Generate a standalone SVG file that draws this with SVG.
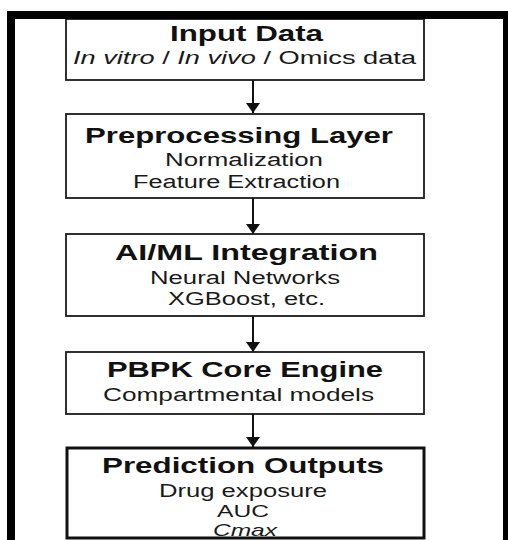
<svg xmlns="http://www.w3.org/2000/svg" width="508" height="540" viewBox="0 0 508 540">
  <style>
    .box { fill: #ffffff; stroke: #1a1a1a; stroke-width: 1.8; }
    .box-strong { fill: #ffffff; stroke: #111111; stroke-width: 3; }
    .title { font-family: "Liberation Sans", Arial, sans-serif; font-weight: bold; font-size: 22px; fill: #111111; }
    .sub { font-family: "Liberation Sans", Arial, sans-serif; font-size: 18px; fill: #1a1a1a; }
    .small { font-size: 17px; }
    .it { font-style: italic; }
    .link { stroke: #111111; stroke-width: 2; fill: none; }
    .frame { fill: #000000; }
  </style>
  <defs>
    <!-- downward arrowhead, 14 wide by 10 long -->
    <marker id="arrow" viewBox="0 0 10 14" refX="10" refY="7" markerWidth="10" markerHeight="14" markerUnits="userSpaceOnUse" orient="auto">
      <path d="M0,0 L10,7 L0,14 Z" fill="#111111"/>
    </marker>
  </defs>

  <rect width="508" height="540" fill="#ffffff"/>

  <!-- connectors -->
  <g id="connectors">
    <line class="link" x1="253" y1="80" x2="253" y2="113" marker-end="url(#arrow)"/>
    <line class="link" x1="253" y1="198" x2="253" y2="234" marker-end="url(#arrow)"/>
    <line class="link" x1="253" y1="316" x2="253" y2="352" marker-end="url(#arrow)"/>
    <line class="link" x1="253" y1="414" x2="253" y2="447" marker-end="url(#arrow)"/>
  </g>

  <g id="input-data">
    <rect class="box" x="66" y="19" width="358" height="61"/>
    <text class="title" x="170" y="41" textLength="153" lengthAdjust="spacingAndGlyphs">Input Data</text>
    <text class="sub" x="73" y="64" textLength="343" lengthAdjust="spacingAndGlyphs"><tspan class="it">In vitro</tspan> / <tspan class="it">In vivo</tspan> / Omics data</text>
  </g>

  <g id="preprocessing">
    <rect class="box" x="66" y="114" width="358" height="84"/>
    <text class="title" x="85" y="143" textLength="308" lengthAdjust="spacingAndGlyphs">Preprocessing Layer</text>
    <text class="sub" x="165" y="166" textLength="158" lengthAdjust="spacingAndGlyphs">Normalization</text>
    <text class="sub" x="133" y="188" textLength="207" lengthAdjust="spacingAndGlyphs">Feature Extraction</text>
  </g>

  <g id="ai-ml">
    <rect class="box" x="66" y="234" width="358" height="82"/>
    <text class="title" x="115" y="260" textLength="263" lengthAdjust="spacingAndGlyphs">AI/ML Integration</text>
    <text class="sub" x="150" y="284" textLength="190" lengthAdjust="spacingAndGlyphs">Neural Networks</text>
    <text class="sub" x="168" y="305" textLength="157" lengthAdjust="spacingAndGlyphs">XGBoost, etc.</text>
  </g>

  <g id="pbpk-core">
    <rect class="box" x="66" y="352" width="358" height="62"/>
    <text class="title" x="107" y="377" textLength="276" lengthAdjust="spacingAndGlyphs">PBPK Core Engine</text>
    <text class="sub" x="103" y="401" textLength="271" lengthAdjust="spacingAndGlyphs">Compartmental models</text>
  </g>

  <g id="prediction-outputs">
    <rect class="box-strong" x="67" y="448" width="357" height="90"/>
    <text class="title" x="102" y="473" textLength="282" lengthAdjust="spacingAndGlyphs">Prediction Outputs</text>
    <text class="sub" x="159" y="497" textLength="168" lengthAdjust="spacingAndGlyphs">Drug exposure</text>
    <text class="sub small" x="217" y="516.5" textLength="52" lengthAdjust="spacingAndGlyphs">AUC</text>
    <text class="sub small it" x="213" y="536" textLength="64" lengthAdjust="spacingAndGlyphs">Cmax</text>
  </g>

  <!-- outer frame -->
  <g id="frame">
    <rect class="frame" x="7" y="11" width="501" height="8"/>
    <rect class="frame" x="7" y="11" width="8" height="529"/>
    <rect class="frame" x="503" y="11" width="5" height="529"/>
  </g>
</svg>
